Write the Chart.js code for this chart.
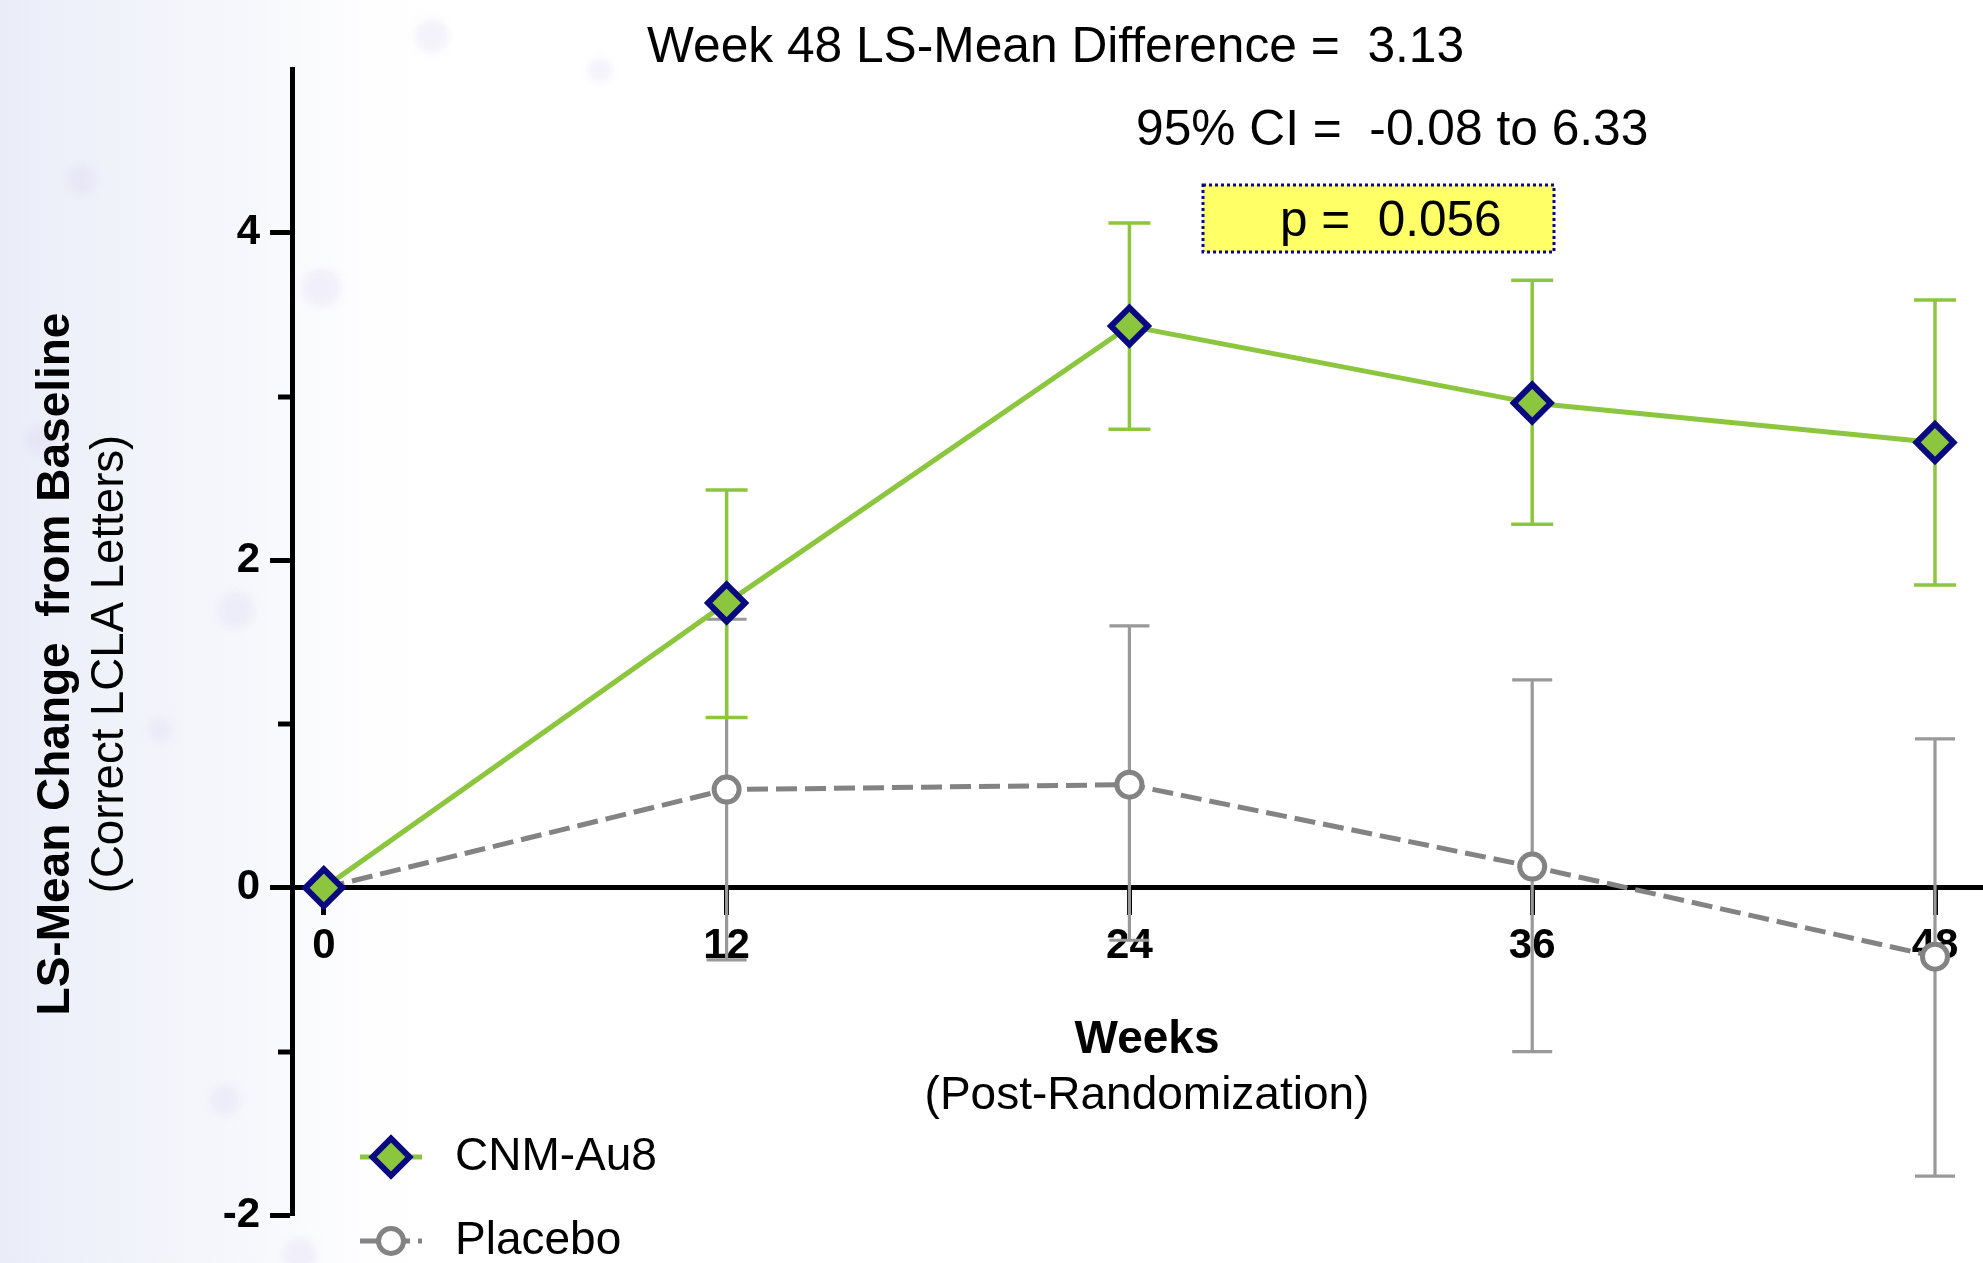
<!DOCTYPE html>
<html>
<head>
<meta charset="utf-8">
<title>LS-Mean Change from Baseline</title>
<script src="https://cdn.jsdelivr.net/npm/chart.js@4.4.1/dist/chart.umd.min.js"></script>
<style>
  html, body { margin: 0; padding: 0; background: #ffffff; overflow: hidden; }
  #wrap { width: 1983px; height: 1263px; position: relative; }
  canvas { display: block; }
</style>
</head>
<body>
<div id="wrap"><canvas id="chart" width="1983" height="1263"></canvas></div>
<script>
// ---- data ----
const weeks = [0, 12, 24, 36, 48];

const cnmMean  = [0, 1.74, 3.43, 2.96, 2.72];
const cnmLower = [0, 1.04, 2.80, 2.22, 1.85];
const cnmUpper = [0, 2.43, 4.06, 3.71, 3.59];

const placeboMean  = [0, 0.60, 0.63, 0.13, -0.42];
const placeboLower = [0, -0.44, -0.32, -1.00, -1.76];
const placeboUpper = [0, 1.64, 1.60, 1.27, 0.91];

const seriesNames = ['CNM-Au8', 'Placebo'];

const yMajorTicks = [-2, 0, 2, 4];
const yMinorTicks = [-1, 1, 3];

const headerLines = ['Week 48 LS-Mean Difference =  3.13', '95% CI =  -0.08 to 6.33'];
const pValueText = 'p =  0.056';
const yTitle = ['LS-Mean Change  from Baseline', '(Correct LCLA Letters)'];
const xTitle = ['Weeks', '(Post-Randomization)'];

// ---- styles ----
const FONT = "'Liberation Sans', Arial, Helvetica, sans-serif";
const GREEN = '#8cc63f';
const NAVY = '#0a0a80';
const GREY_LINE = '#838383';
const GREY_BAR = '#999999';

const errorBars = [
  { lower: cnmLower, upper: cnmUpper, color: GREEN, width: 3.5, cap: 21 },
  { lower: placeboLower, upper: placeboUpper, color: GREY_BAR, width: 3.2, cap: 20 }
];

// page background with soft tint on the left
const backdrop = {
  id: 'backdrop',
  beforeDraw(chart) {
    const ctx = chart.ctx;
    ctx.save();
    ctx.fillStyle = '#ffffff';
    ctx.fillRect(0, 0, chart.width, chart.height);
    const g = ctx.createLinearGradient(0, 0, 460, 0);
    g.addColorStop(0, 'rgba(234,237,248,1)');
    g.addColorStop(0.55, 'rgba(244,245,251,0.75)');
    g.addColorStop(1, 'rgba(255,255,255,0)');
    ctx.fillStyle = g;
    ctx.fillRect(0, 0, 460, chart.height);
    ctx.filter = 'blur(4px)';
    const dots = [[432, 36, 17], [322, 288, 19], [82, 180, 15], [236, 610, 18], [160, 730, 12], [225, 1100, 15], [300, 1255, 17], [40, 440, 14], [600, 70, 12]];
    for (const [x, y, r] of dots) {
      ctx.beginPath();
      ctx.arc(x, y, r, 0, Math.PI * 2);
      ctx.fillStyle = 'rgba(214,208,242,0.28)';
      ctx.fill();
    }
    ctx.restore();
  }
};

// error bars drawn just beneath each dataset's line and markers
const errorBarPlugin = {
  id: 'errorBarPlugin',
  beforeDatasetDraw(chart, args) {
    const spec = errorBars[args.index];
    if (!spec) return;
    const { ctx, scales: { x, y } } = chart;
    ctx.save();
    ctx.strokeStyle = spec.color;
    ctx.lineWidth = spec.width;
    weeks.forEach((w, i) => {
      if (spec.lower[i] === spec.upper[i]) return;
      const px = x.getPixelForValue(w);
      const yl = y.getPixelForValue(spec.lower[i]);
      const yu = y.getPixelForValue(spec.upper[i]);
      ctx.beginPath();
      ctx.moveTo(px, yl); ctx.lineTo(px, yu);
      ctx.moveTo(px - spec.cap, yu); ctx.lineTo(px + spec.cap, yu);
      ctx.moveTo(px - spec.cap, yl); ctx.lineTo(px + spec.cap, yl);
      ctx.stroke();
    });
    ctx.restore();
  }
};

// minor y ticks, titles, annotations and legend
const decorations = {
  id: 'decorations',
  afterDatasetsDraw(chart) {
    const { ctx, scales: { x, y }, chartArea } = chart;
    ctx.save();

    // minor ticks on the y axis
    ctx.strokeStyle = '#000';
    ctx.lineWidth = 5;
    yMinorTicks.forEach(v => {
      const py = Math.round(y.getPixelForValue(v));
      ctx.beginPath();
      ctx.moveTo(chartArea.left - 14, py);
      ctx.lineTo(chartArea.left, py);
      ctx.stroke();
    });

    ctx.fillStyle = '#000';
    ctx.textBaseline = 'alphabetic';

    // header text
    ctx.font = `49.7px ${FONT}`;
    ctx.textAlign = 'left';
    ctx.fillText(headerLines[0], 647, 62);
    ctx.fillText(headerLines[1], 1136, 145);

    // highlighted p-value box
    const bx = 1203, by = 185, bw = 351, bh = 67;
    ctx.fillStyle = '#ffff66';
    ctx.fillRect(bx, by, bw, bh);
    ctx.strokeStyle = NAVY;
    ctx.lineWidth = 3;
    ctx.setLineDash([3, 3]);
    ctx.strokeRect(bx, by, bw, bh);
    ctx.setLineDash([]);
    ctx.fillStyle = '#000';
    ctx.font = `49.5px ${FONT}`;
    ctx.fillText(pValueText, 1280, 236);

    // y axis title (rotated)
    ctx.save();
    ctx.translate(69, 664);
    ctx.rotate(-Math.PI / 2);
    ctx.textAlign = 'center';
    ctx.font = `bold 46px ${FONT}`;
    ctx.fillText(yTitle[0], 0, 0);
    ctx.restore();
    ctx.save();
    ctx.translate(123, 664);
    ctx.rotate(-Math.PI / 2);
    ctx.textAlign = 'center';
    ctx.font = `45.6px ${FONT}`;
    ctx.fillText(yTitle[1], 0, 0);
    ctx.restore();

    // x axis title
    ctx.textAlign = 'center';
    ctx.textBaseline = 'middle';
    ctx.font = `bold 46px ${FONT}`;
    ctx.fillText(xTitle[0], 1147, 1040);
    ctx.font = `46px ${FONT}`;
    ctx.fillText(xTitle[1], 1147, 1096);

    // legend
    const rows = [1157, 1241];
    chart.data.datasets.forEach((ds, i) => {
      const ly = rows[i];
      ctx.save();
      ctx.strokeStyle = ds.borderColor;
      ctx.lineWidth = ds.borderWidth;
      ctx.setLineDash(ds.borderDash || []);
      ctx.beginPath();
      ctx.moveTo(360, ly); ctx.lineTo(422, ly);
      ctx.stroke();
      ctx.setLineDash([]);
      ctx.fillStyle = ds.pointBackgroundColor;
      ctx.strokeStyle = ds.pointBorderColor;
      ctx.lineWidth = ds.pointBorderWidth;
      Chart.helpers.drawPoint(ctx, { pointStyle: ds.pointStyle, radius: ds.pointRadius, borderWidth: ds.pointBorderWidth, rotation: 0 }, 391, ly);
      ctx.restore();
      ctx.fillStyle = '#000';
      ctx.textAlign = 'left';
      ctx.textBaseline = 'middle';
      ctx.font = `46px ${FONT}`;
      ctx.fillText(seriesNames[i], 455, ly);
    });

    ctx.restore();
  }
};

const toPoints = (means) => weeks.map((w, i) => ({ x: w, y: means[i] }));

new Chart(document.getElementById('chart'), {
  type: 'line',
  data: {
    datasets: [
      {
        label: seriesNames[0],
        data: toPoints(cnmMean),
        borderColor: GREEN,
        borderWidth: 5,
        pointStyle: 'rectRot',
        pointRadius: 18.5,
        pointBackgroundColor: GREEN,
        pointBorderColor: NAVY,
        pointBorderWidth: 6,
        tension: 0,
        clip: false
      },
      {
        label: seriesNames[1],
        data: toPoints(placeboMean),
        borderColor: GREY_LINE,
        borderWidth: 5,
        borderDash: [21, 8],
        pointStyle: 'circle',
        pointRadius: 12.5,
        pointBackgroundColor: '#ffffff',
        pointBorderColor: GREY_LINE,
        pointBorderWidth: 5,
        tension: 0,
        clip: false
      }
    ]
  },
  options: {
    responsive: false,
    animation: false,
    devicePixelRatio: 1,
    layout: { autoPadding: false, padding: { top: 69, bottom: 47.6, left: 0, right: 0 } },
    plugins: { legend: { display: false }, tooltip: { enabled: false } },
    scales: {
      x: {
        type: 'linear',
        position: { y: 0 },
        min: -0.948,
        max: 49.43,
        afterBuildTicks: s => { s.ticks = weeks.map(v => ({ value: v })); },
        afterFit: s => { s.height = 0; s.paddingLeft = 0; s.paddingRight = 0; },
        ticks: {
          color: '#000',
          font: { family: FONT, size: 42, weight: 'bold' },
          padding: 8,
          maxRotation: 0,
          autoSkip: false
        },
        grid: { display: true, drawOnChartArea: false, drawTicks: true, tickLength: 25, tickWidth: 5, tickColor: '#000' },
        border: { display: true, color: '#000', width: 5 }
      },
      y: {
        type: 'linear',
        position: 'left',
        min: -2,
        max: 5,
        afterBuildTicks: s => { s.ticks = yMajorTicks.map(v => ({ value: v })); },
        afterFit: s => { s.width = 292; s.paddingTop = 0; s.paddingBottom = 0; },
        ticks: {
          color: '#000',
          font: { family: FONT, size: 42, weight: 'bold' },
          padding: 10,
          autoSkip: false
        },
        grid: { display: true, drawOnChartArea: false, drawTicks: true, tickLength: 22, tickWidth: 5, tickColor: '#000' },
        border: { display: true, color: '#000', width: 5 }
      }
    }
  },
  plugins: [backdrop, errorBarPlugin, decorations]
});
</script>
</body>
</html>
